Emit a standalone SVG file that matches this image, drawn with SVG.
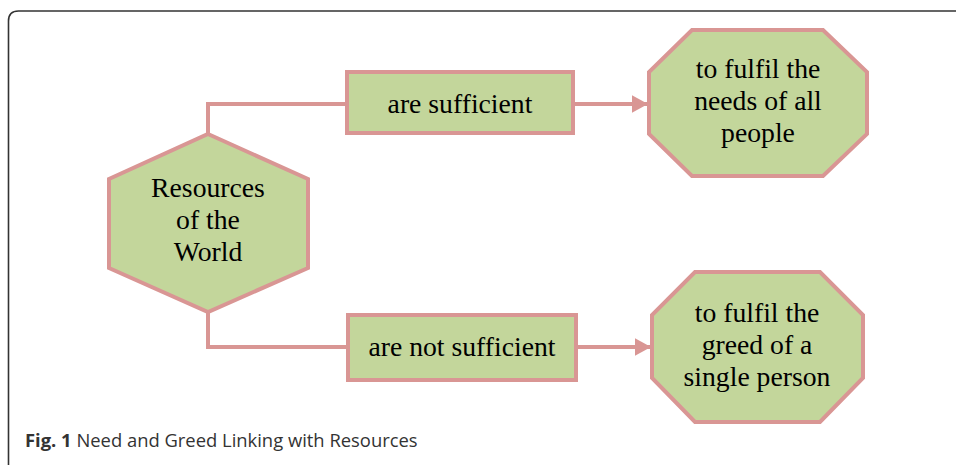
<svg xmlns="http://www.w3.org/2000/svg" width="956" height="465" viewBox="0 0 956 465">
<defs>
<style>
.shape{fill:#c3d69b;stroke:#d99694;stroke-width:4;stroke-linejoin:miter}
.lbl{font-family:"Liberation Serif","Times New Roman",serif;font-size:27.7px;fill:#000;text-anchor:middle}
.conn{fill:none;stroke:#d99694;stroke-width:4}
.cap{font-family:"Open Sans","Noto Sans",sans-serif;font-size:18.4px;fill:#333}
</style>
<marker id="arr" markerWidth="4" markerHeight="4.4" refX="4" refY="2.2" orient="auto" markerUnits="strokeWidth">
<path d="M0,0 L4,2.2 L0,4.4 Z" fill="#d99694"/>
</marker>
</defs>
<rect width="956" height="465" fill="#fff"/>
<path d="M8.5,480 L8.5,21 Q8.5,11 18.5,11 L970,11" fill="none" stroke="#333" stroke-width="1.6"/>
<g id="connectors">
<path class="conn" d="M208,134 L208,104 L347,104"/>
<path class="conn" d="M573,104 L648,104" marker-end="url(#arr)"/>
<path class="conn" d="M208,312 L208,347 L348,347"/>
<path class="conn" d="M576,347 L651,347" marker-end="url(#arr)"/>
</g>
<g id="resources">
<polygon class="shape" points="208,134 308,179 308,268 208,312 109,268 109,179"/>
<text class="lbl" x="208" y="197">Resources</text>
<text class="lbl" x="208" y="229">of the</text>
<text class="lbl" x="208" y="261">World</text>
</g>
<g id="sufficient">
<rect class="shape" x="347" y="72" width="226" height="61"/>
<text class="lbl" x="460" y="113">are sufficient</text>
</g>
<g id="notsufficient">
<rect class="shape" x="348" y="315" width="228" height="65"/>
<text class="lbl" x="462" y="356">are not sufficient</text>
</g>
<g id="needs">
<polygon class="shape" points="692,30 823,30 867,72 867,134 823,176 692,176 649,134 649,72"/>
<text class="lbl" x="758" y="78">to fulfil the</text>
<text class="lbl" x="758" y="110">needs of all</text>
<text class="lbl" x="758" y="142">people</text>
</g>
<g id="greed">
<polygon class="shape" points="695,272 820,272 863,315 863,378 820,422 695,422 652,378 652,315"/>
<text class="lbl" x="757" y="322">to fulfil the</text>
<text class="lbl" x="757" y="354">greed of a</text>
<text class="lbl" x="757" y="386">single person</text>
</g>
<text class="cap" x="25" y="447"><tspan font-weight="bold">Fig. 1</tspan> Need and Greed Linking with Resources</text>
</svg>
